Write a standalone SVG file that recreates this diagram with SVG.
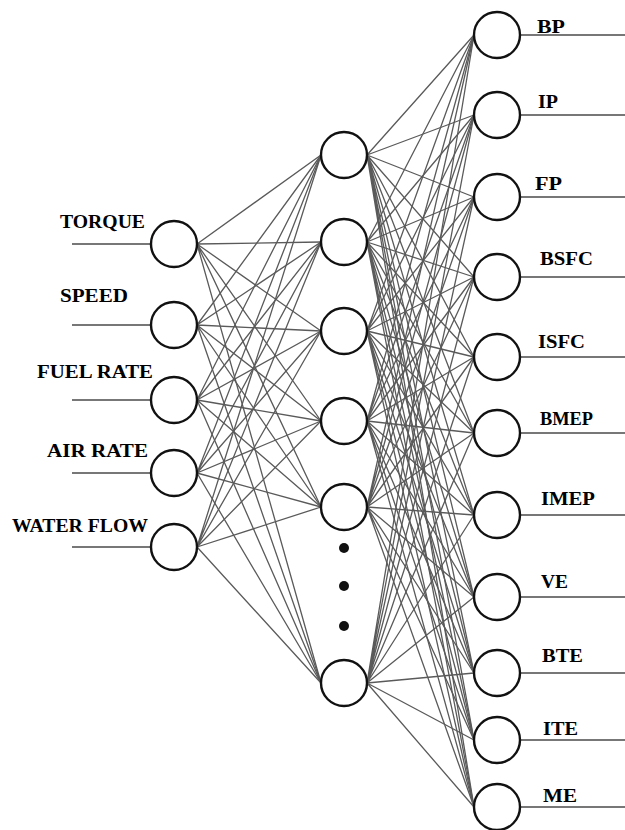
<svg xmlns="http://www.w3.org/2000/svg" width="625" height="830" viewBox="0 0 625 830">
<style>
.n{fill:#fff;stroke:#111;stroke-width:2.4}
.c{stroke:#5a5a5a;stroke-width:1.3;fill:none}
.io{stroke:#777;stroke-width:2;fill:none}
.t{font-family:"Liberation Serif","Times New Roman",serif;font-weight:bold;font-size:19px;fill:#000}
.d{fill:#111}
</style>
<rect width="625" height="830" fill="#fff"/>
<g id="connectors">
<path class="c" d="M197 244L321 155M197 244L321 242M197 244L321 331M197 244L321 421M197 244L321 507M197 244L321 683"/>
<path class="c" d="M197 325L321 155M197 325L321 242M197 325L321 331M197 325L321 421M197 325L321 507M197 325L321 683"/>
<path class="c" d="M197 400L321 155M197 400L321 242M197 400L321 331M197 400L321 421M197 400L321 507M197 400L321 683"/>
<path class="c" d="M197 473L321 155M197 473L321 242M197 473L321 331M197 473L321 421M197 473L321 507M197 473L321 683"/>
<path class="c" d="M197 547L321 155M197 547L321 242M197 547L321 331M197 547L321 421M197 547L321 507M197 547L321 683"/>
<path class="c" d="M367 155L474 35M367 155L474 115M367 155L474 197M367 155L474 277M367 155L474 357M367 155L474 433M367 155L474 515M367 155L474 597M367 155L474 673M367 155L474 740M367 155L474 807"/>
<path class="c" d="M367 242L474 35M367 242L474 115M367 242L474 197M367 242L474 277M367 242L474 357M367 242L474 433M367 242L474 515M367 242L474 597M367 242L474 673M367 242L474 740M367 242L474 807"/>
<path class="c" d="M367 331L474 35M367 331L474 115M367 331L474 197M367 331L474 277M367 331L474 357M367 331L474 433M367 331L474 515M367 331L474 597M367 331L474 673M367 331L474 740M367 331L474 807"/>
<path class="c" d="M367 421L474 35M367 421L474 115M367 421L474 197M367 421L474 277M367 421L474 357M367 421L474 433M367 421L474 515M367 421L474 597M367 421L474 673M367 421L474 740M367 421L474 807"/>
<path class="c" d="M367 507L474 35M367 507L474 115M367 507L474 197M367 507L474 277M367 507L474 357M367 507L474 433M367 507L474 515M367 507L474 597M367 507L474 673M367 507L474 740M367 507L474 807"/>
<path class="c" d="M367 683L474 35M367 683L474 115M367 683L474 197M367 683L474 277M367 683L474 357M367 683L474 433M367 683L474 515M367 683L474 597M367 683L474 673M367 683L474 740M367 683L474 807"/>
<path class="io" d="M72 244H151M72 325H151M72 400H151M72 473H151M72 547H151"/>
<path class="io" d="M520 35H625M520 115H625M520 197H625M520 277H625M520 357H625M520 433H625M520 515H625M520 597H625M520 673H625M520 740H625M520 807H625"/>
</g>
<g id="in-torque"><circle class="n" cx="174" cy="244" r="23"/><text class="t" x="60" y="228" textLength="85" lengthAdjust="spacingAndGlyphs">TORQUE</text></g>
<g id="in-speed"><circle class="n" cx="174" cy="325" r="23"/><text class="t" x="60" y="302" textLength="68" lengthAdjust="spacingAndGlyphs">SPEED</text></g>
<g id="in-fuel"><circle class="n" cx="174" cy="400" r="23"/><text class="t" x="37" y="378" textLength="116" lengthAdjust="spacingAndGlyphs">FUEL RATE</text></g>
<g id="in-air"><circle class="n" cx="174" cy="473" r="23"/><text class="t" x="47" y="457" textLength="101" lengthAdjust="spacingAndGlyphs">AIR  RATE</text></g>
<g id="in-water"><circle class="n" cx="174" cy="547" r="23"/><text class="t" x="12" y="532" textLength="136" lengthAdjust="spacingAndGlyphs">WATER FLOW</text></g>
<g id="h1"><circle class="n" cx="344" cy="155" r="23"/></g>
<g id="h2"><circle class="n" cx="344" cy="242" r="23"/></g>
<g id="h3"><circle class="n" cx="344" cy="331" r="23"/></g>
<g id="h4"><circle class="n" cx="344" cy="421" r="23"/></g>
<g id="h5"><circle class="n" cx="344" cy="507" r="23"/></g>
<g id="h-dots"><circle class="d" cx="344" cy="548" r="5"/><circle class="d" cx="344" cy="586" r="5"/><circle class="d" cx="344" cy="626" r="5"/></g>
<g id="h6"><circle class="n" cx="344" cy="683" r="23"/></g>
<g id="out-bp"><circle class="n" cx="497" cy="35" r="23"/><text class="t" x="537" y="33" textLength="28" lengthAdjust="spacingAndGlyphs">BP</text></g>
<g id="out-ip"><circle class="n" cx="497" cy="115" r="23"/><text class="t" x="538" y="108" textLength="20" lengthAdjust="spacingAndGlyphs">IP</text></g>
<g id="out-fp"><circle class="n" cx="497" cy="197" r="23"/><text class="t" x="535" y="190" textLength="27" lengthAdjust="spacingAndGlyphs">FP</text></g>
<g id="out-bsfc"><circle class="n" cx="497" cy="277" r="23"/><text class="t" x="540" y="265" textLength="53" lengthAdjust="spacingAndGlyphs">BSFC</text></g>
<g id="out-isfc"><circle class="n" cx="497" cy="357" r="23"/><text class="t" x="538" y="348" textLength="47" lengthAdjust="spacingAndGlyphs">ISFC</text></g>
<g id="out-bmep"><circle class="n" cx="497" cy="433" r="23"/><text class="t" x="540" y="425" textLength="53" lengthAdjust="spacingAndGlyphs">BMEP</text></g>
<g id="out-imep"><circle class="n" cx="497" cy="515" r="23"/><text class="t" x="541" y="505" textLength="54" lengthAdjust="spacingAndGlyphs">IMEP</text></g>
<g id="out-ve"><circle class="n" cx="497" cy="597" r="23"/><text class="t" x="541" y="588" textLength="27" lengthAdjust="spacingAndGlyphs">VE</text></g>
<g id="out-bte"><circle class="n" cx="497" cy="673" r="23"/><text class="t" x="542" y="662" textLength="41" lengthAdjust="spacingAndGlyphs">BTE</text></g>
<g id="out-ite"><circle class="n" cx="497" cy="740" r="23"/><text class="t" x="543" y="735" textLength="35" lengthAdjust="spacingAndGlyphs">ITE</text></g>
<g id="out-me"><circle class="n" cx="497" cy="807" r="23"/><text class="t" x="543" y="802" textLength="34" lengthAdjust="spacingAndGlyphs">ME</text></g>
</svg>
